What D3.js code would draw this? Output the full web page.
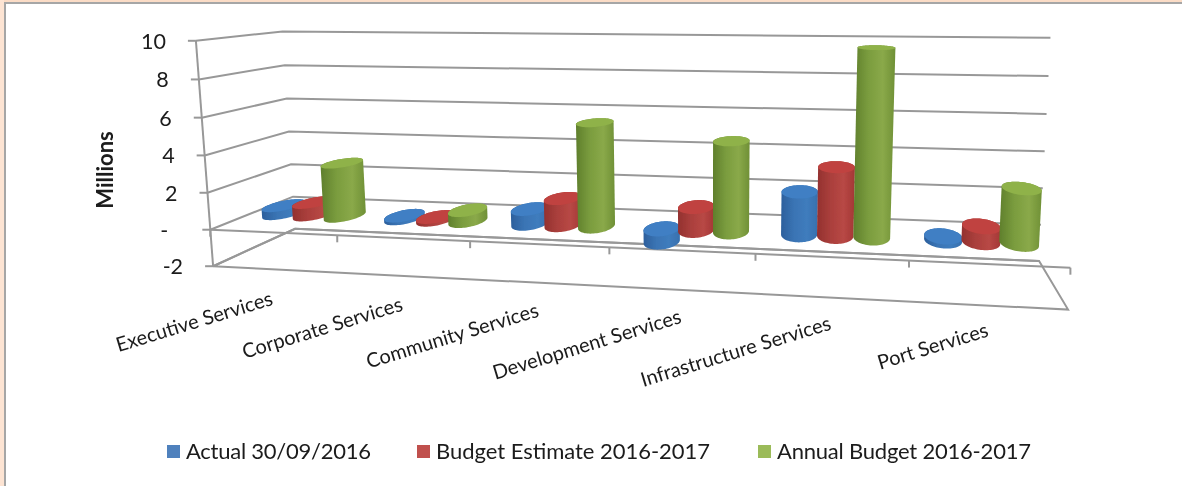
<!DOCTYPE html>
<html><head><meta charset="utf-8">
<script src="https://cdnjs.cloudflare.com/ajax/libs/d3/7.8.5/d3.min.js"></script>
<style>
html,body{margin:0;padding:0;background:#fff;overflow:hidden}
text{font-family:Lato,"Open Sans",sans-serif;fill:#1a1a1a}
</style></head><body><svg id="c" width="1182" height="486"></svg>
<script>
const categories=["Executive Services","Corporate Services","Community Services","Development Services","Infrastructure Services","Port Services"];
const seriesNames=["Actual 30/09/2016","Budget Estimate 2016-2017","Annual Budget 2016-2017"];
const actual=[0.45,0.15,0.8,-0.7,2.25,0.2];
const budgetEstimate=[0.7,0.15,1.45,1.25,3.6,0.8];
const annualBudget=[3.0,0.6,5.6,4.8,9.7,2.8];
const valueTicks=[-2,0,2,4,6,8,10];
const tickLabels=["-2","-","2","4","6","8","10"];
const seriesValues=[actual,budgetEstimate,annualBudget];

// camera calibration: [category position, depth, value, screen x, screen y]
const calibration=[
[0,0,10,196,40],[0,0,0,211,230],[0,0,-2,213,266],
[1,0,0,337,236],[2,0,0,470,242],[3,0,0,609,248],[4,0,0,755,254],[5,0,0,909,261],[6,0,0,1069,267],[6,0,-2,1070,308],
[0,1,10,283,31],[0,1,8,285,65],[0,1,6,287,99],[0,1,4,288,131],[0,1,2,290,165],[0,1,-2,296,228],
[6,1,10,1052,38],[6,1,8,1048,77],[6,1,6,1046,114],[6,1,4,1044,151],[6,1,2,1042,188],[6,1,0,1041,224],[6,1,-2,1040,262]
];
function solve(A,b){const n=b.length,M=A.map((r,i)=>[...r,b[i]]);
 for(let i=0;i<n;i++){let p=i;for(let k=i+1;k<n;k++)if(Math.abs(M[k][i])>Math.abs(M[p][i]))p=k;[M[i],M[p]]=[M[p],M[i]];
  for(let k=i+1;k<n;k++){const f=M[k][i]/M[i][i];for(let j=i;j<=n;j++)M[k][j]-=f*M[i][j];}}
 const x=Array(n).fill(0);for(let i=n-1;i>=0;i--){let s=M[i][n];for(let j=i+1;j<n;j++)s-=M[i][j]*x[j];x[i]=s/M[i][i];}return x;}
const uS=d3.scaleLinear().domain([0,6]).range([0,1]);
const vS=d3.scaleLinear().domain([-2,10]).range([0,1]);
const H=(()=>{const A=Array.from({length:11},()=>Array(11).fill(0)),B=Array(11).fill(0);
 const add=(r,t)=>{for(let i=0;i<11;i++){for(let j=0;j<11;j++)A[i][j]+=r[i]*r[j];B[i]+=r[i]*t;}};
 calibration.forEach(([u,d,v,x,y])=>{const X=uS(u),Y=d,Z=vS(v),px=x/1000,py=y/1000;
  add([X,Y,Z,1,0,0,0,0,-px*X,-px*Y,-px*Z],px);add([0,0,0,0,X,Y,Z,1,-py*X,-py*Y,-py*Z],py);});
 return solve(A,B);})();
function P(u,d,v){const X=uS(u),Y=d,Z=vS(v),w=H[8]*X+H[9]*Y+H[10]*Z+1;
 return [1000*(H[0]*X+H[1]*Y+H[2]*Z+H[3])/w,1000*(H[4]*X+H[5]*Y+H[6]*Z+H[7])/w];}

const svg=d3.select("#c");
const defs=svg.append("defs");
const f=defs.append("filter").attr("id","soft").attr("x","-5%").attr("y","-5%").attr("width","110%").attr("height","110%");
f.append("feGaussianBlur").attr("stdDeviation",0.6);
const ft=defs.append("filter").attr("id","softT").attr("x","-5%").attr("y","-5%").attr("width","110%").attr("height","110%");
ft.append("feGaussianBlur").attr("stdDeviation",0.3);
const colors=["#4F81BD","#C0504D","#9BBB59"];
const shades=[["#2c5f9c","#3a74b4","#3f7cbd","#3870ae"],["#93312f","#aa3f3c","#b84845","#a33735"],["#5f7f2c","#7a9c3e","#8aa949","#6f9036"]];
const tops=["#3f7fc4","#c0433f","#8fb249"];
shades.forEach((s,i)=>{const g=defs.append("linearGradient").attr("id","g"+i);
 [0,.35,.7,1].forEach((o,k)=>g.append("stop").attr("offset",o).attr("stop-color",s[k]));});

// frame
svg.append("rect").attr("width",1182).attr("height",2).attr("fill","#FBDCC6");
svg.append("rect").attr("width",4).attr("height",486).attr("fill","#FDE4D3");
svg.append("path").attr("d","M5,486V3H1182").attr("fill","none").attr("stroke","#a6a6a6").attr("stroke-width",2);

const line=d3.line();
const grid=svg.append("g").attr("filter","url(#soft)").attr("fill","none").attr("stroke","#989898").attr("stroke-width",2);
valueTicks.forEach(v=>{
 grid.append("path").attr("d",line([P(0,0,v),P(0,1,v),P(6,1,v)]));
 const a=P(0,0,v);grid.append("path").attr("d",line([[a[0]-8,a[1]],a]));
});
grid.append("path").attr("d",line([P(0,0,10),P(0,0,-2)]));
grid.append("path").attr("d",line([P(0,0,-2),P(6,0,-2),P(6,1,-2),P(0,1,-2),P(0,0,-2)]));
grid.append("path").attr("d",line([P(0,0,0),P(6,0,0)]));
d3.range(0,7).forEach(u=>{const a=P(u,0,0);grid.append("path").attr("d",line([a,[a[0],a[1]+7]]));});

// cylinders
const barStep=0.255,ru=0.128,rd=0.2,dMid=0.5;
const circle=(cu,v)=>d3.range(0,72).map(k=>{const t=k/72*2*Math.PI;return P(cu+ru*Math.cos(t),dMid+rd*Math.sin(t),v);});
const bars=svg.append("g").attr("filter","url(#soft)");
categories.forEach((c,i)=>{seriesValues.forEach((vals,s)=>{
 const v=vals[i],cu=i+0.51+(s-1)*barStep,hi=Math.max(v,0),lo=Math.min(v,0);
 const topC=circle(cu,hi),botC=circle(cu,lo),hull=d3.polygonHull(topC.concat(botC));
 bars.append("path").attr("d",line(hull)+"Z").attr("fill",`url(#g${s})`);
 bars.append("path").attr("d",line(topC)+"Z").attr("fill",tops[s]);
});});

// labels
const axisT=svg.append("g").attr("filter","url(#softT)");
const tickGap=v=>v===0?42:30;
valueTicks.forEach((v,i)=>{const a=P(0,0,v);
 axisT.append("text").attr("x",a[0]-tickGap(v)).attr("y",a[1]+8).attr("text-anchor","end").attr("font-size",21.5).text(tickLabels[i]);});
categories.forEach((c,i)=>{const a=P(i+0.5,0,0);
 axisT.append("text").attr("transform",`translate(${a[0]+1},${a[1]+72}) rotate(-17)`).attr("text-anchor","end").attr("font-size",20).text(c);});
axisT.append("text").attr("transform","translate(113,170) rotate(-90)").attr("text-anchor","middle").attr("font-size",22).attr("font-weight",700).text("Millions");

// legend
const legendX=d3.scaleOrdinal().domain(seriesNames).range([167,417,758]);
const legendWidths=[185,274,254];
seriesNames.forEach((n,i)=>{const x=legendX(n);
 svg.append("rect").attr("x",x).attr("y",445).attr("width",13).attr("height",13).attr("fill",colors[i]);
 axisT.append("text").attr("x",x+19).attr("y",459).attr("font-size",22).attr("textLength",legendWidths[i]).attr("lengthAdjust","spacing").text(n);});
</script></body></html>
